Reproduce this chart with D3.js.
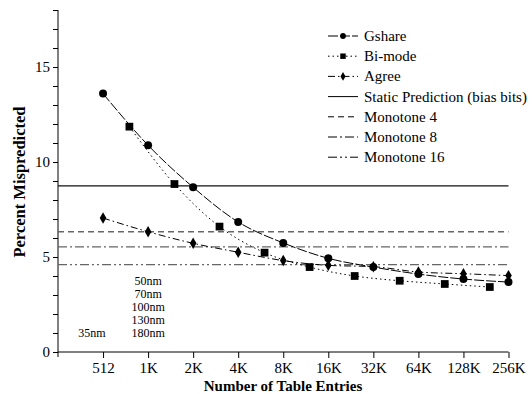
<!DOCTYPE html>
<html>
<head>
<meta charset="utf-8">
<script src="https://cdn.jsdelivr.net/npm/d3@7"></script>
<style>
  body { margin: 0; background: #fff; }
  svg text { font-family: "Liberation Serif", "Times New Roman", Times, serif; }
</style>
</head>
<body>
<svg id="chart" width="532" height="394"></svg>
<script>
// entries (log2 of table size) and values
const xTicks = [9, 10, 11, 12, 13, 14, 15, 16, 17, 18];
const xTickLabels = ["512", "1K", "2K", "4K", "8K", "16K", "32K", "64K", "128K", "256K"];

const gshareX = [9, 10, 11, 12, 13, 14, 15, 16, 17, 18];
const gshareY = [13.6, 10.88, 8.67, 6.84, 5.74, 4.93, 4.47, 4.1, 3.84, 3.68];

const bimodeX = [9.585, 10.585, 11.585, 12.585, 13.585, 14.585, 15.585, 16.585, 17.585];
const bimodeY = [11.86, 8.84, 6.6, 5.23, 4.47, 4.0, 3.75, 3.58, 3.42];

const agreeX = [9, 10, 11, 12, 13, 14, 15, 16, 17, 18];
const agreeY = [7.05, 6.33, 5.72, 5.25, 4.81, 4.56, 4.49, 4.21, 4.12, 4.02];

const hLineNames = ["Static Prediction (bias bits)", "Monotone 4", "Monotone 8", "Monotone 16"];
const hLineValues = [8.74, 6.33, 5.53, 4.6];

const nmLabels = ["50nm", "70nm", "100nm", "130nm", "180nm"];

const FONT = '"Liberation Serif", "Times New Roman", Times, serif';
const svg = d3.select("#chart");
const margin = {left: 58, right: 24, top: 10, bottom: 42};

const x = d3.scaleLinear().domain([8, 18]).range([margin.left, 508.5]);
const y = d3.scaleLinear().domain([0, 18]).range([352, 10]);

// axes
const yAxis = d3.axisLeft(y).tickValues(d3.range(0, 19, 1))
  .tickFormat(d => d % 5 === 0 ? d : "").tickSize(5).tickPadding(3);
const gy = svg.append("g").attr("transform", `translate(${margin.left},0)`).call(yAxis)
  .attr("font-family", FONT).attr("font-size", 15);
gy.select(".domain").attr("d", `M0,10V357`);
gy.selectAll("text").attr("fill", "#000");

const xAxis = d3.axisBottom(x).tickValues(xTicks)
  .tickFormat((d, i) => xTickLabels[i]).tickSize(6).tickPadding(4);
const gx = svg.append("g").attr("transform", `translate(0,352)`).call(xAxis)
  .attr("font-family", FONT).attr("font-size", 15);
gx.select(".domain").attr("d", `M${margin.left},0H508.5`);
gx.selectAll("text").attr("fill", "#000");
svg.selectAll(".domain, .tick line").attr("stroke", "#000").attr("stroke-width", 1);

// axis titles
svg.append("text").attr("x", 283).attr("y", 391).attr("text-anchor", "middle")
  .style("font-size", "15px").style("font-weight", "bold").text("Number of Table Entries");
svg.append("text").attr("transform", "translate(25,182) rotate(-90)").attr("text-anchor", "middle")
  .style("font-size", "16.5px").style("font-weight", "bold").text("Percent Mispredicted");

// horizontal reference lines
const hStyles = [
  {dash: null, color: "#111"},
  {dash: "6,4", color: "#666"},
  {dash: "9,3,2,3", color: "#666"},
  {dash: "9,3,2,3,2,3", color: "#666"}
];
hLineValues.forEach((v, i) => {
  svg.append("line").attr("x1", margin.left).attr("x2", 508.5)
    .attr("y1", y(v)).attr("y2", y(v))
    .attr("stroke", hStyles[i].color).attr("stroke-width", 1.3)
    .attr("stroke-dasharray", hStyles[i].dash);
});

// data series
const line = d3.line().x(d => x(d[0])).y(d => y(d[1])).curve(d3.curveMonotoneX);
const series = [
  {name: "Gshare", xs: gshareX, ys: gshareY, dash: "10,2", mark: d3.symbolCircle, size: 50, lsize: 26},
  {name: "Bi-mode", xs: bimodeX, ys: bimodeY, dash: "1.5,3", mark: d3.symbolSquare, size: 60, lsize: 30},
  {name: "Agree", xs: agreeX, ys: agreeY, dash: "7,3,1.5,3", mark: d3.symbolDiamond, size: 38, lsize: 22}
];
series.forEach(s => {
  const pts = s.xs.map((v, i) => [v, s.ys[i]]);
  svg.append("path").datum(pts).attr("d", line).attr("fill", "none")
    .attr("stroke", "#000").attr("stroke-width", 1).attr("stroke-dasharray", s.dash);
  svg.append("g").selectAll("path").data(pts).join("path")
    .attr("transform", d => `translate(${x(d[0])},${y(d[1])})`)
    .attr("d", d3.symbol(s.mark, s.size)).attr("fill", "#000");
});

// legend
const lg = svg.append("g");
const lx0 = 328, lx1 = 358, ltx = 364, ly0 = 36, lstep = 20.2;
series.forEach((s, i) => {
  const yy = ly0 + i * lstep;
  lg.append("line").attr("x1", lx0).attr("x2", lx1).attr("y1", yy).attr("y2", yy)
    .attr("stroke", "#000").attr("stroke-dasharray", s.dash);
  lg.append("path").attr("transform", `translate(${(lx0 + lx1) / 2},${yy})`)
    .attr("d", d3.symbol(s.mark, s.lsize)).attr("fill", "#000");
  lg.append("text").attr("x", ltx).attr("y", yy + 5).style("font-size", "15px").text(s.name);
});
hLineNames.forEach((n, i) => {
  const yy = ly0 + (i + 3) * lstep;
  lg.append("line").attr("x1", lx0).attr("x2", lx1).attr("y1", yy).attr("y2", yy)
    .attr("stroke", "#000").attr("stroke-dasharray", i === 0 ? null : hStyles[i].dash);
  lg.append("text").attr("x", ltx).attr("y", yy + 5).style("font-size", "15px").text(n);
});

// technology annotations
nmLabels.forEach((t, i) => {
  svg.append("text").attr("x", x(10)).attr("y", 284.5 + i * 13).attr("text-anchor", "middle")
    .style("font-size", "12px").text(t);
});
svg.append("text").attr("x", 92).attr("y", 284.5 + 4 * 13).attr("text-anchor", "middle")
  .style("font-size", "12px").text("35nm");
</script>
</body>
</html>
